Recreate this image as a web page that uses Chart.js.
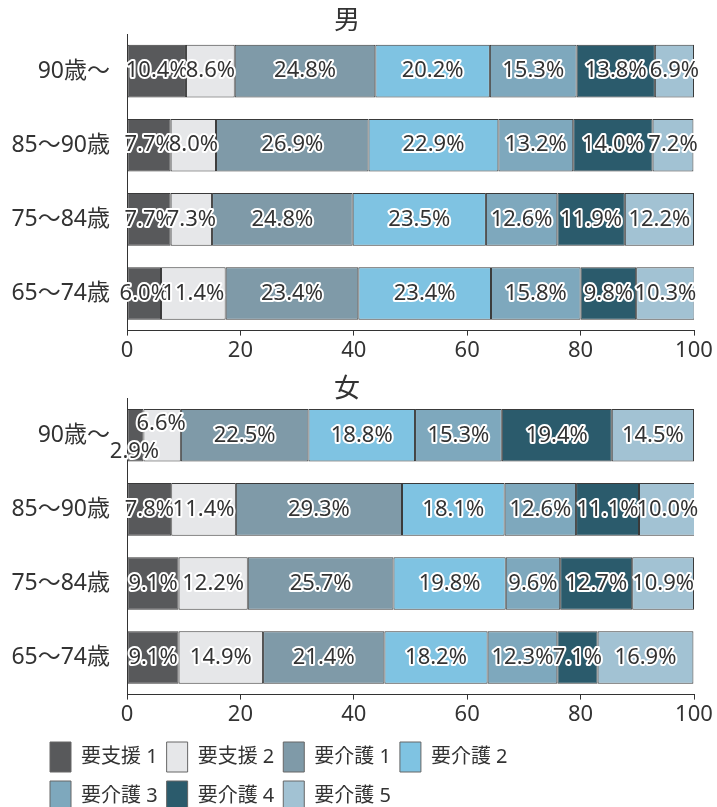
<!DOCTYPE html>
<html>
<head>
<meta charset="utf-8">
<script src="https://cdn.jsdelivr.net/npm/chart.js@4"></script>
<style>
body { margin: 0; background: #fff; width: 717px; height: 807px; overflow: hidden; position: relative; }
canvas { position: absolute; }
</style>
</head>
<body>
<canvas id="chartMale" width="717" height="366" style="left:0;top:0"></canvas>
<canvas id="chartFemale" width="717" height="364" style="left:0;top:366px"></canvas>
<canvas id="chartLegend" width="520" height="180" style="left:41px;top:733px"></canvas>
<script>
const ageGroups = ['90歳～', '85～90歳', '75～84歳', '65～74歳']
const levels = ['要支援 1', '要支援 2', '要介護 1', '要介護 2', '要介護 3', '要介護 4', '要介護 5']
const xTicks = [0, 20, 40, 60, 80, 100]

// 男: one array per level, rows in ageGroups order
const male = [
    [10.4, 7.7, 7.7, 6.0],
    [8.6, 8.0, 7.3, 11.4],
    [24.8, 26.9, 24.8, 23.4],
    [20.2, 22.9, 23.5, 23.4],
    [15.3, 13.2, 12.6, 15.8],
    [13.8, 14.0, 11.9, 9.8],
    [6.9, 7.2, 12.2, 10.3]
]

// 女
const female = [
    [2.9, 7.8, 9.1, 9.1],
    [6.6, 11.4, 12.2, 14.9],
    [22.5, 29.3, 25.7, 21.4],
    [18.8, 18.1, 19.8, 18.2],
    [15.3, 12.6, 9.6, 12.3],
    [19.4, 11.1, 12.7, 7.1],
    [14.5, 10.0, 10.9, 16.9]
]

const colors = ['#58595b', '#e6e7e9', '#7f9aa8', '#7fc3e2', '#7ea8bd', '#2b5b6c', '#a2c2d3']

const FONT = "'Noto Sans', 'Noto Sans CJK JP', sans-serif"
Chart.defaults.font.family = FONT
Chart.defaults.color = '#333'
Chart.defaults.animation = false

// percent labels with white outline
const valueLabels = {
    id: 'valueLabels',
    afterDatasetsDraw(chart, args, opts) {
        const ctx = chart.ctx
        const nudge = opts.nudge || {}
        ctx.save()
        ctx.font = '22px ' + FONT
        ctx.textAlign = 'center'
        ctx.textBaseline = 'middle'
        ctx.lineJoin = 'round'
        ctx.lineWidth = 4
        ctx.strokeStyle = '#fff'
        ctx.fillStyle = '#333'
        chart.data.datasets.forEach((ds, i) => {
            chart.getDatasetMeta(i).data.forEach((bar, j) => {
                const text = ds.data[j].toFixed(1) + '%'
                const d = nudge[i + '-' + j] || [0, 0]
                const x = (bar.x + bar.base) / 2 + d[0]
                const y = bar.y + d[1]
                ctx.strokeText(text, x, y)
                ctx.fillText(text, x, y)
            })
        })
        ctx.restore()
    }
}

function makeDatasets(values) {
    return levels.map((name, i) => ({
        label: name,
        data: values[i],
        backgroundColor: colors[i],
        borderColor: '#3a3a3a',
        borderWidth: 1,
        borderSkipped: false,
        barPercentage: 0.71,
        categoryPercentage: 1
    }))
}

function makeChart(id, title, values, titlePad, nudge) {
    return new Chart(document.getElementById(id), {
        type: 'bar',
        data: { labels: ageGroups, datasets: makeDatasets(values) },
        plugins: [valueLabels],
        options: {
            indexAxis: 'y',
            responsive: false,
            layout: { padding: { left: 0, right: 23, top: 0, bottom: 0 } },
            plugins: {
                legend: { display: false },
                tooltip: { enabled: false },
                title: {
                    display: true,
                    text: title,
                    color: '#333',
                    font: { size: 26, weight: 'normal', lineHeight: 1 },
                    padding: titlePad
                },
                valueLabels: { nudge: nudge }
            },
            scales: {
                x: {
                    stacked: true,
                    min: 0,
                    max: 100,
                    afterBuildTicks: (scale) => { scale.ticks = xTicks.map(v => ({ value: v })) },
                    grid: { drawOnChartArea: false, drawTicks: true, tickLength: 5, color: '#333' },
                    border: { display: true, color: '#333', width: 1 },
                    ticks: { padding: 2, font: { size: 22 }, color: '#333' }
                },
                y: {
                    stacked: true,
                    afterFit: (scale) => { scale.width = 127 },
                    grid: { display: false, drawTicks: false },
                    border: { display: true, color: '#333', width: 1 },
                    ticks: { padding: 17, font: { size: 23 }, color: '#333' }
                }
            }
        }
    })
}

makeChart('chartMale', '男', male, { top: 9, bottom: -1 }, {})
makeChart('chartFemale', '女', female, { top: 11, bottom: -4.75 }, { '0-0': [-1, 16], '1-0': [-1, -12] })

// legend only
new Chart(document.getElementById('chartLegend'), {
    type: 'bar',
    data: {
        labels: [],
        datasets: levels.map((name, i) => ({
            label: name,
            data: [],
            backgroundColor: colors[i],
            borderColor: '#666',
            borderWidth: 1
        }))
    },
    options: {
        responsive: false,
        layout: { padding: 0 },
        scales: { x: { display: false }, y: { display: false } },
        plugins: {
            tooltip: { enabled: false },
            legend: {
                position: 'top',
                align: 'start',
                labels: {
                    boxWidth: 21,
                    boxHeight: 30,
                    padding: 9,
                    color: '#333',
                    font: { size: 20 }
                }
            }
        }
    }
})
</script>
</body>
</html>
